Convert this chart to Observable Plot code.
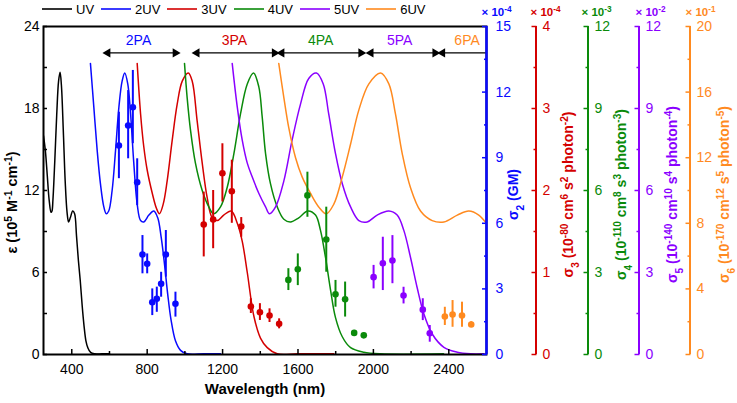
<!DOCTYPE html>
<html><head><meta charset="utf-8">
<script src="https://cdn.jsdelivr.net/npm/d3@7"></script>
<script src="https://cdn.jsdelivr.net/npm/@observablehq/plot@0.6"></script>
<style>
body{margin:0;background:#fff;}
#wrap{position:relative;width:737px;height:403px;font-family:"Liberation Sans",Arial,sans-serif;}
#legend{position:absolute;z-index:2;top:1px;left:42px;display:flex;gap:7px;font-size:13px;align-items:center;height:16px;}
.item{display:flex;align-items:center;gap:4px;}
.item svg{display:block;}
</style></head><body><div id="wrap"><div id="legend"></div></div>
<script>
// ---- series names / colours ----
const seriesNames = ["UV","2UV","3UV","4UV","5UV","6UV"];
const seriesColors = ["#000000","#0a0aff","#d40000","#0a8a0a","#8a00ff","#ff8a1f"];

// ---- absorption spectrum (UV) and its multiples, eps in 1e5 M^-1 cm^-1 ----
const wlUV  = [250,260,270,280,290,295,300,310,320,330,338,345,355,365,375,383,392,405,415,425,435,445,455,465,475,485,500,520,560,600];
const epsUV = [16.0,14.9,13.1,11.3,10.4,10.5,11.3,14.2,17.5,20.0,20.65,19.7,16.4,12.7,10.4,9.7,10.0,10.5,10.3,8.7,6.9,5.4,3.6,2.1,1.0,0.5,0.15,0.05,0.05,0.05];
const wl2UV  = [499,517,535,552,570,583,596,614,632,650,667,681,697,712,729,747,765,782,809,835,856,874,892,909,927,950,977,1012,1100,1189];
const eps2UV = [21.3,18.1,14.9,12.5,10.8,10.3,10.5,12.0,14.9,18.1,20.0,20.6,19.8,17.6,14.0,11.0,9.8,9.7,10.2,10.5,10.0,8.6,6.6,4.4,2.5,1.0,0.3,0.05,0.05,0.05];
const wl3UV  = [747,765,782,800,827,849,865,885,906,933,959,986,1018,1039,1065,1092,1118,1145,1172,1206,1246,1278,1304,1331,1366,1401,1437,1490,1600,1790];
const eps3UV = [21.3,17.6,15.2,13.5,11.8,10.7,10.3,11.0,12.7,15.7,18.3,20.0,20.6,20.0,17.1,14.0,11.5,10.0,9.8,10.2,10.5,9.6,8.3,6.0,2.8,1.2,0.5,0.05,0.05,0.05];
const wl4UV  = [998,1012,1030,1056,1092,1127,1153,1189,1224,1260,1295,1331,1364,1392,1410,1428,1454,1490,1525,1560,1604,1652,1693,1719,1746,1773,1799,1835,1879,1949,2038,2372];
const eps4UV = [21.3,18.8,16.4,14.0,12.0,10.8,10.3,10.8,12.2,14.7,17.6,19.8,20.6,19.6,17.4,14.7,12.5,10.8,9.9,9.7,10.0,10.5,10.2,9.1,7.1,4.7,2.7,1.3,0.5,0.17,0.05,0.05];
const wl5UV  = [1251,1278,1304,1331,1357,1392,1428,1449,1481,1525,1569,1613,1657,1698,1734,1763,1799,1835,1879,1923,1967,2020,2082,2126,2161,2197,2232,2267,2312,2374,2445,2515,2586];
const eps5UV = [21.3,18.1,15.7,14.0,13.0,11.8,10.8,10.3,10.8,12.7,15.7,18.3,20.2,20.6,19.8,17.6,14.7,12.5,10.8,9.8,9.7,10.2,10.5,10.2,9.1,7.1,4.9,3.0,1.5,0.53,0.17,0.05,0.05];
const wl6UV  = [1498,1525,1551,1587,1622,1666,1710,1750,1790,1835,1879,1923,1976,2038,2082,2117,2153,2197,2250,2312,2374,2445,2506,2559,2610];
const eps6UV = [21.3,18.8,16.6,14.4,13.0,11.8,10.8,10.3,11.0,13.0,15.4,17.9,19.8,20.6,19.8,17.6,14.7,12.2,10.5,9.8,9.7,10.2,10.5,10.2,9.4];
const curveWl  = [wlUV, wl2UV, wl3UV, wl4UV, wl5UV, wl6UV];
const curveEps = [epsUV, eps2UV, eps3UV, eps4UV, eps5UV, eps6UV];

// ---- multiphoton cross sections (value, low, high), each in its own axis units ----
const wl2PA = [650,699,724,747,775,800,827,851,874,899,950];
const s2PA  = [9.56,10.47,11.31,7.88,4.57,4.15,2.39,2.55,3.23,4.57,2.32];
const s2Lo  = [8.04,8.95,9.64,6.81,3.69,3.69,1.78,1.93,2.62,3.54,1.71];
const s2Hi  = [11.08,12.07,12.99,8.95,5.44,4.60,3.00,3.08,3.76,5.67,2.85];
const wl3PA = [1100,1150,1199,1249,1299,1350,1398,1449,1500];
const s3PA  = [1.585,1.646,2.21,1.99,1.56,0.585,0.516,0.476,0.374];
const s3Lo  = [1.19,1.29,1.86,1.60,1.43,0.50,0.415,0.39,0.313];
const s3Hi  = [1.98,2.00,2.57,2.37,1.67,0.68,0.62,0.557,0.435];
const wl4PA = [1549,1599,1650,1750,1799,1850,1898,1949];
const s4PA  = [2.73,3.12,5.82,4.21,2.20,2.02,0.79,0.70];
const s4Lo  = [2.34,2.52,5.02,3.01,1.73,1.37,0.70,0.62];
const s4Hi  = [3.14,3.68,6.67,5.39,2.71,2.65,0.88,0.78];
const wl5PA = [2001,2050,2101,2160,2262,2299];
const s5PA  = [2.83,3.34,3.44,2.16,1.64,0.78];
const s5Lo  = [2.40,2.34,2.59,1.85,1.24,0.45];
const s5Hi  = [3.26,4.29,4.35,2.46,2.04,1.06];
const wl6PA = [2379,2420,2470,2519];
const s6PA  = [2.32,2.44,2.38,1.83];
const s6Lo  = [1.77,1.66,1.66,1.65];
const s6Hi  = [2.88,3.29,3.19,2.00];
const paWl = [wl2PA, wl3PA, wl4PA, wl5PA, wl6PA];
const paVal = [s2PA, s3PA, s4PA, s5PA, s6PA];
const paLo = [s2Lo, s3Lo, s4Lo, s5Lo, s6Lo];
const paHi = [s2Hi, s3Hi, s4Hi, s5Hi, s6Hi];

// ---- right axes ----
const axisMax  = [15, 4, 12, 12, 20];
const axisStep = [3, 1, 3, 3, 4];
const axisTitles = ["σ_{2} (GM)", "σ_{3} (10^{-80} cm^{6} s^{2} photon^{-2})", "σ_{4} (10^{-110} cm^{8} s^{3} photon^{-3})", "σ_{5} (10^{-140} cm^{10} s^{4} photon^{-4})", "σ_{6} (10^{-170} cm^{12} s^{5} photon^{-5})"];
const axisExp = ["× 10^{-4}", "× 10^{-4}", "× 10^{-3}", "× 10^{-2}", "× 10^{-1}"];

// ---- nPA ranges ----
const paNames = ["2PA","3PA","4PA","5PA","6PA"];
const paStart = [580, 1053, 1503, 1976, 2356];
const paEnd   = [960, 1486, 1945, 2338, 2600];
const paLabelX = [754, 1263, 1720, 2139, 2497];
const paRightHead = [true, true, true, true, false];

// ---- left / bottom axes ----
const yTicks = [0, 6, 12, 18, 24];
const yMinor = [3, 9, 15, 21];
const xTicks = [400, 800, 1200, 1600, 2000, 2400];
const xMinor = [600, 1000, 1400, 1800, 2200];
const xTitle = "Wavelength (nm)";
const yTitle = "ε (10^{5} M^{-1} cm^{-1})";

// ---- layout (pixels) ----
const axisDx    = [0, 49.5, 101.5, 152.5, 203.5];   // offset of each right axis from frame right
const labelGap  = [9, 6.5, 6.5, 6.5, 6.5];
const titleDx   = [27, 82, 135, 186, 238];
const expDx     = [10, 59, 110, 164, 214];
const arrowY = 22.07, paLabelY = 23;

// legend
const legend = document.getElementById("legend");
seriesNames.forEach((n, i) => {
  const it = document.createElement("div"); it.className = "item";
  it.innerHTML = `<svg width="30" height="4"><line x1="0" x2="30" y1="2" y2="2" stroke="${seriesColors[i]}" stroke-width="1.6"/></svg><span>${n}</span>`;
  legend.appendChild(it);
});

const marks = [];
// curves
curveWl.forEach((wl, i) => {
  const rows = wl.map((x, j) => ({x, y: curveEps[i][j]}));
  marks.push(Plot.line(rows, {x: "x", y: "y", stroke: seriesColors[i], strokeWidth: 1.5, curve: "catmull-rom", clip: true}));
});
// data points
paWl.forEach((wl, k) => {
  const f = 24 / axisMax[k];
  const c = seriesColors[k + 1];
  const rows = wl.map((x, j) => ({x, y: paVal[k][j] * f, lo: paLo[k][j] * f, hi: paHi[k][j] * f}));
  marks.push(Plot.ruleX(rows, {x: "x", y1: "lo", y2: "hi", stroke: c, strokeWidth: 2}));
  marks.push(Plot.dot(rows, {x: "x", y: "y", r: 3.3, fill: c}));
});
// nPA arrows
const paRows = paNames.map((n, i) => ({n, a: paStart[i], b: paEnd[i], lx: paLabelX[i], c: seriesColors[i + 1], rh: paRightHead[i]}));
marks.push(Plot.ruleY(paRows, {x1: "a", x2: "b", y: arrowY, stroke: "#000", strokeWidth: 1.4}));
marks.push(Plot.dot(paRows, {x: "a", y: arrowY, symbol: "triangle", rotate: -90, r: 3.4, fill: "#000", dx: 2}));
marks.push(Plot.dot(paRows.filter(d => d.rh), {x: "b", y: arrowY, symbol: "triangle", rotate: 90, r: 3.4, fill: "#000", dx: -2}));
marks.push(Plot.text(paRows, {x: "lx", y: paLabelY, text: "n", fill: "c", fontSize: 14}));

// frame
marks.push(Plot.frame({stroke: "#000", strokeWidth: 2}));
// left axis
marks.push(Plot.axisY(yTicks, {anchor: "left", tickSize: -4, tickPadding: 8, fontSize: 14, color: "#000", strokeWidth: 1.5, label: null}));
marks.push(Plot.axisY(yMinor, {anchor: "left", tickSize: -4, tickFormat: () => "", color: "#000", strokeWidth: 1.5, label: null}));
// bottom axis
marks.push(Plot.axisX(xTicks, {anchor: "bottom", tickSize: -5, tickPadding: 15, fontSize: 14, color: "#000", strokeWidth: 1.5, label: null, tickFormat: d => String(d)}));
marks.push(Plot.axisX(xMinor, {anchor: "bottom", tickSize: -3, tickFormat: () => "", color: "#000", strokeWidth: 1.5, label: null}));
marks.push(Plot.text([xTitle], {frameAnchor: "bottom", dy: 39, fontWeight: "bold", fontSize: 15, fill: "#000"}));
marks.push(Plot.text([yTitle], {frameAnchor: "left", textAnchor: "middle", rotate: -90, dx: -31, dy: 12, fontWeight: "bold", fontSize: 14.5, fill: "#000"}));

// right axes
const frameCenterToRight = (737 - 251 - 43) / 2;
axisMax.forEach((M, k) => {
  const f = 24 / M, st = axisStep[k], c = seriesColors[k + 1];
  const major = d3.range(0, M + 1e-9, st).map(v => v * f);
  const minor = d3.range(st / 2, M, st).map(v => v * f);
  marks.push(Plot.ruleX([0], {x: null, y1: 0, y2: 24, dx: frameCenterToRight + axisDx[k], stroke: c, strokeWidth: k === 0 ? 2.5 : 2}));
  marks.push(Plot.axisY(major, {anchor: "right", dx: axisDx[k], tickSize: -5, tickPadding: labelGap[k] + 5, fontSize: 14, color: c, strokeWidth: 1.5, label: null,
    tickFormat: y => String(Math.round(y / f * 100) / 100)}));
  marks.push(Plot.axisY(minor, {anchor: "right", dx: axisDx[k], tickSize: -3, tickFormat: () => "", color: c, strokeWidth: 1.5, label: null}));
  marks.push(Plot.text([axisTitles[k]], {frameAnchor: "right", textAnchor: "middle", rotate: -90, dx: titleDx[k], dy: 4, fontWeight: "bold", fontSize: 14, fill: c}));
  marks.push(Plot.text([axisExp[k]], {frameAnchor: "top-right", textAnchor: "middle", dx: expDx[k], dy: -18.5, fontWeight: "bold", fontSize: 11.5, fill: c}));
});

const chart = Plot.plot({
  width: 737, height: 403,
  marginTop: 26, marginBottom: 49, marginLeft: 43, marginRight: 251,
  x: {domain: [250, 2600], axis: null},
  y: {domain: [0, 24], axis: null},
  style: {fontFamily: "Liberation Sans, Arial, sans-serif", fontSize: "14px", background: "#fff", overflow: "visible"},
  marks
});

// render ^{..} / _{..} as real superscript / subscript tspans
const NS = "http://www.w3.org/2000/svg";
chart.querySelectorAll("text").forEach(t => {
  const s = t.textContent;
  if (!/[\^_]\{/.test(s) || t.querySelector("tspan")) return;
  t.textContent = "";
  s.split(/(\^\{[^}]*\}|_\{[^}]*\})/).forEach(part => {
    if (!part) return;
    const ts = document.createElementNS(NS, "tspan");
    const m = part.match(/^([\^_])\{([^}]*)\}$/);
    if (m) {
      ts.textContent = m[2];
      ts.setAttribute("font-size", "72%");
      ts.setAttribute("baseline-shift", m[1] === "^" ? "super" : "sub");
    } else ts.textContent = part;
    t.appendChild(ts);
  });
});
document.getElementById("wrap").appendChild(chart);
</script></body></html>
